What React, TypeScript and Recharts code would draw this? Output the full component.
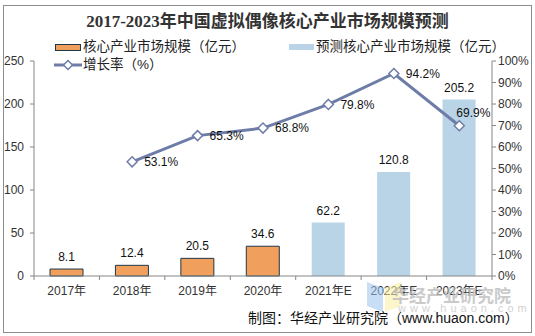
import React from "react";
import {
  ComposedChart,
  Bar,
  Line,
  XAxis,
  YAxis,
  LabelList,
} from "recharts";

const years = ["2017年", "2018年", "2019年", "2020年", "2021年E", "2022年E", "2023年E"];
const coreSize = [8.1, 12.4, 20.5, 34.6, null, null, null];
const forecastSize = [null, null, null, null, 62.2, 120.8, 205.2];
const growthRate = [null, 53.1, 65.3, 68.8, 79.8, 94.2, 69.9];
const leftTicks = [0, 50, 100, 150, 200, 250];
const rightTicks = [0, 10, 20, 30, 40, 50, 60, 70, 80, 90, 100];

const data = years.map((year, i) => ({
  year,
  core: coreSize[i],
  forecast: forecastSize[i],
  rate: growthRate[i],
}));

const FONT = "'Liberation Sans', 'Noto Sans CJK SC', sans-serif";
const ORANGE = "#F0A05C";
const BLUE = "#B8D4E6";
const LINE = "#6E7DA8";
const AXIS = "#868686";

const W = 535;
const H = 336;
const LEFT_W = 34;
const RIGHT_W = 43;
const STEP = (W - LEFT_W - RIGHT_W) / years.length;

function XTick(props: any) {
  const { x, y, payload, index } = props;
  const axisY = y - 8;
  const bx = x - STEP / 2;
  return (
    <g>
      <line x1={bx} y1={axisY} x2={bx} y2={axisY + 4} stroke={AXIS} />
      {index === years.length - 1 && (
        <line x1={x + STEP / 2} y1={axisY} x2={x + STEP / 2} y2={axisY + 4} stroke={AXIS} />
      )}
      <text x={x} y={y + 2} dy="0.71em" textAnchor="middle" fontSize={12} fill="#333" fontFamily={FONT}>
        {payload.value}
      </text>
    </g>
  );
}

function Diamond(props: any) {
  const { cx, cy, value } = props;
  if (value == null || cx == null || cy == null) return <g />;
  const r = 5;
  return (
    <path
      d={`M${cx},${cy - r} L${cx + r},${cy} L${cx},${cy + r} L${cx - r},${cy} Z`}
      fill="#fff"
      stroke={LINE}
      strokeWidth={1.5}
    />
  );
}

function RateLabel(props: any) {
  const { x, y, value, index } = props;
  if (value == null) return <g />;
  const last = index === years.length - 1;
  return (
    <text
      x={last ? x - 3 : x + 12}
      y={last ? y - 12 : y + 1}
      dominantBaseline="middle"
      fontSize={12}
      fill="#111"
      fontFamily={FONT}
    >
      {value.toFixed(1)}%
    </text>
  );
}

export default function App() {
  return (
    <div style={{ position: "absolute", left: 0, top: 0, width: W, height: H, background: "#fff", fontFamily: FONT }}>
      <div
        style={{
          position: "absolute",
          left: 3,
          top: 5,
          width: 527,
          height: 326,
          border: "1px solid #8c8c8c",
        }}
      />
      <div
        style={{
          position: "absolute",
          left: 0,
          width: W,
          top: 10,
          textAlign: "center",
          fontSize: 17,
          fontWeight: "bold",
          color: "#333",
          fontFamily: "'Liberation Serif', 'Noto Sans CJK SC', serif",
          lineHeight: "24px",
        }}
      >
        2017-2023年中国虚拟偶像核心产业市场规模预测
      </div>
      {/* legend */}
      <div style={{ position: "absolute", left: 55, top: 44, width: 24, height: 5, background: ORANGE, border: "1px solid #1F3848" }} />
      <div style={{ position: "absolute", left: 83, top: 38, fontSize: 13.5, lineHeight: "18px", color: "#222" }}>
        核心产业市场规模（亿元）
      </div>
      <div style={{ position: "absolute", left: 289, top: 44, width: 25, height: 6, background: BLUE }} />
      <div style={{ position: "absolute", left: 316, top: 38, fontSize: 13.5, lineHeight: "18px", color: "#222" }}>
        预测核心产业市场规模（亿元）
      </div>
      <svg style={{ position: "absolute", left: 54, top: 59 }} width={28} height={12}>
        <line x1={0} y1={6} x2={28} y2={6} stroke={LINE} strokeWidth={3} />
        <path d="M14,1.5 L18.5,6 L14,10.5 L9.5,6 Z" fill="#fff" stroke={LINE} strokeWidth={1.5} />
      </svg>
      <div style={{ position: "absolute", left: 83, top: 56, fontSize: 13.5, lineHeight: "18px", color: "#222" }}>
        增长率（%）
      </div>

      <ComposedChart
        width={W}
        height={H}
        data={data}
        margin={{ top: 61, right: 0, bottom: 40, left: 0 }}
        barCategoryGap={0}
        style={{ position: "absolute", left: 0, top: 0 }}
      >
        <XAxis
          dataKey="year"
          height={20}
          stroke={AXIS}
          tickLine={false}
          tickSize={0}
          tickMargin={8}
          interval={0}
          tick={<XTick />}
        />
        <YAxis
          yAxisId="l"
          width={LEFT_W}
          domain={[0, 250]}
          ticks={leftTicks}
          stroke={AXIS}
          tickSize={4}
          tickMargin={6}
          tick={{ fontSize: 12, fill: "#333", fontFamily: FONT }}
        />
        <YAxis
          yAxisId="r"
          orientation="right"
          width={RIGHT_W}
          domain={[0, 100]}
          ticks={rightTicks}
          stroke={AXIS}
          tickSize={4}
          tickMargin={2}
          tickFormatter={(v: number) => `${v}%`}
          tick={{ fontSize: 12, fill: "#333", fontFamily: FONT, textAnchor: "start" }}
        />
        <Bar yAxisId="l" dataKey="core" stackId="s" barSize={33} fill={ORANGE} stroke="#1F3848" strokeWidth={1} isAnimationActive={false}>
          <LabelList dataKey="core" position="top" offset={8} fontSize={12} fill="#111" fontFamily={FONT} />
        </Bar>
        <Bar yAxisId="l" dataKey="forecast" stackId="s" barSize={33} fill={BLUE} isAnimationActive={false}>
          <LabelList dataKey="forecast" position="top" offset={8} fontSize={12} fill="#111" fontFamily={FONT} />
        </Bar>
        <Line
          yAxisId="r"
          dataKey="rate"
          stroke={LINE}
          strokeWidth={3}
          dot={<Diamond />}
          activeDot={false}
          label={<RateLabel />}
          isAnimationActive={false}
        />
      </ComposedChart>

      {/* watermark */}
      <svg style={{ position: "absolute", left: 365, top: 280, opacity: 0.55 }} width={40} height={34}>
        <path d="M2,2 L18,8 L18,32 L2,26 Z" fill="#9CC4F2" />
        <path d="M20,8 L36,2 L36,26 L20,32 Z" fill="#FBEFA0" />
      </svg>
      <div style={{ position: "absolute", left: 392, top: 282, fontSize: 17, color: "#bdbdbd", opacity: 0.8, fontWeight: "bold" }}>
        华经产业研究院
      </div>
      <div style={{ position: "absolute", left: 398, top: 302, fontSize: 11, color: "#c8c8c8", letterSpacing: 4, opacity: 0.8 }}>
        www.huaon.com
      </div>
      <div style={{ position: "absolute", left: 248, top: 309, fontSize: 14, lineHeight: "18px", color: "#111" }}>
        制图：华经产业研究院（www.huaon.com）
      </div>
    </div>
  );
}
